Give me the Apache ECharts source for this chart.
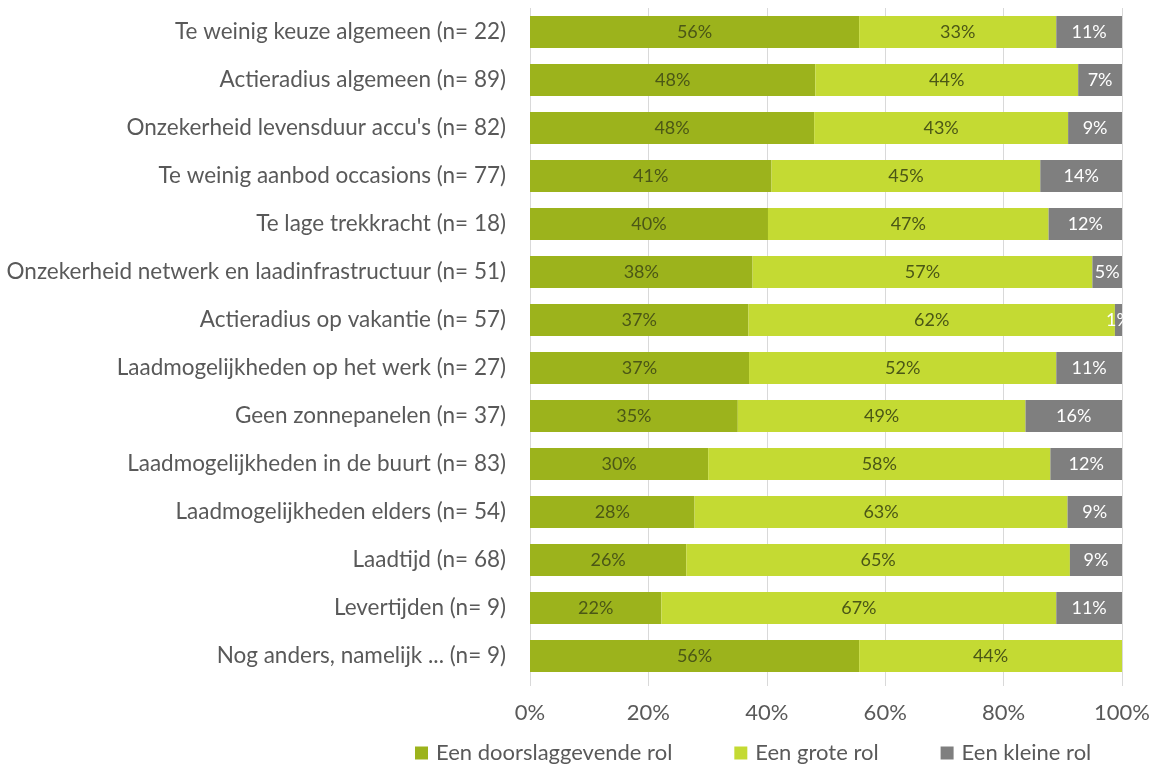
<!DOCTYPE html>
<html><head><meta charset="utf-8">
<script src="https://cdn.jsdelivr.net/npm/echarts@6/dist/echarts.min.js"></script>
<style>html,body{margin:0;padding:0;background:#fff}#c{width:1151px;height:764px}</style>
</head><body><div id="c"></div>
<script>
const categories = [
  "Te weinig keuze algemeen (n= 22)",
  "Actieradius algemeen (n= 89)",
  "Onzekerheid levensduur accu's (n= 82)",
  "Te weinig aanbod occasions (n= 77)",
  "Te lage trekkracht (n= 18)",
  "Onzekerheid netwerk en laadinfrastructuur (n= 51)",
  "Actieradius op vakantie (n= 57)",
  "Laadmogelijkheden op het werk (n= 27)",
  "Geen zonnepanelen (n= 37)",
  "Laadmogelijkheden in de buurt (n= 83)",
  "Laadmogelijkheden elders (n= 54)",
  "Laadtijd (n= 68)",
  "Levertijden (n= 9)",
  "Nog anders, namelijk ... (n= 9)"
];
const doorslaggevend = [55.6, 48.2, 48.0, 40.8, 40.2, 37.6, 36.9, 37.0, 35.1, 30.1, 27.8, 26.4, 22.2, 55.6];
const groot          = [33.3, 44.4, 42.9, 45.4, 47.4, 57.4, 61.9, 51.9, 48.6, 57.8, 63.0, 64.8, 66.7, 44.4];
const klein          = [11.1, 7.4, 9.1, 13.8, 12.4, 5.0, 1.2, 11.1, 16.3, 12.1, 9.2, 8.8, 11.1, 0];
const seriesNames = ["Een doorslaggevende rol", "Een grote rol", "Een kleine rol"];
const xTicks = [0, 20, 40, 60, 80, 100];

const FONT = "Lato";
function lbl(color) {
  return {show: true, position: 'inside', color: color, fontFamily: FONT, fontSize: 18,
    formatter: p => p.value > 0 ? Math.round(p.value) + '%' : ''};
}
const chart = echarts.init(document.getElementById('c'), null, {renderer: 'canvas'});
chart.setOption({
  animation: false,
  textStyle: {fontFamily: FONT},
  grid: {left: 530, right: 29, top: 8, bottom: 84, containLabel: false, outerBoundsMode: 'none'},
  xAxis: {type: 'value', min: xTicks[0], max: xTicks[xTicks.length - 1], interval: 20,
    axisLabel: {formatter: v => v + '%', color: '#595959', fontSize: 22, fontFamily: FONT, margin: 22},
    axisLine: {show: false},
    axisTick: {show: true, length: 6, lineStyle: {color: '#d9d9d9'}},
    splitLine: {show: true, lineStyle: {color: '#d9d9d9', width: 1}}
  },
  yAxis: {type: 'category', data: categories, inverse: true,
    axisLabel: {color: '#595959', fontSize: 22.5, fontFamily: FONT, margin: 24},
    axisLine: {show: false}, axisTick: {show: false}
  },
  legend: {top: 737, left: 410, itemWidth: 13, itemHeight: 13, itemGap: 62, icon: 'rect',
    textStyle: {color: '#595959', fontSize: 22, fontFamily: FONT, padding: [0, 0, 0, 3]},
    data: seriesNames},
  series: [
    {name: seriesNames[0], type: 'bar', stack: 't', data: doorslaggevend, barWidth: 32,
      itemStyle: {color: '#9cb31c'}, label: lbl('#4b5716')},
    {name: seriesNames[1], type: 'bar', stack: 't', data: groot, barWidth: 32,
      itemStyle: {color: '#c4da33'}, label: lbl('#4b5716')},
    {name: seriesNames[2], type: 'bar', stack: 't', data: klein, barWidth: 32,
      itemStyle: {color: '#7f7f7f'}, label: lbl('#ffffff')}
  ]
});
</script></body></html>
